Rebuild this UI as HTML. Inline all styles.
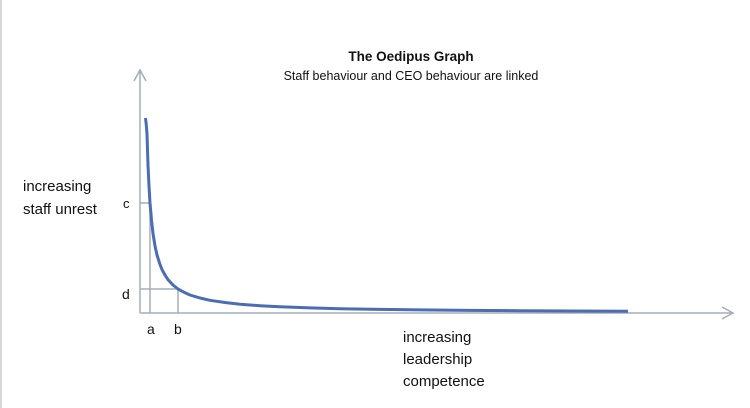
<!DOCTYPE html>
<html><head><meta charset="utf-8"><style>
body{margin:0;background:#fff;width:750px;height:408px;overflow:hidden}
svg{display:block}
text{font-family:"Liberation Sans",sans-serif;fill:#111}
</style></head><body>
<svg width="750" height="408" viewBox="0 0 750 408">
<line x1="1" y1="0" x2="1" y2="408" stroke="#c8c8c8" stroke-width="1.5"/>
<text x="411" y="61" font-size="13.5" font-weight="bold" text-anchor="middle">The Oedipus Graph</text>
<text x="411" y="80" font-size="12.5" text-anchor="middle">Staff behaviour and CEO behaviour are linked</text>
<g stroke="#a4adb8" stroke-width="1.5" fill="none">
<line x1="140" y1="70" x2="140" y2="313"/>
<polyline points="134,81 140,70 146,81"/>
<line x1="140" y1="313" x2="733" y2="313"/>
<polyline points="722,307 733,313 722,319"/>
<line x1="140" y1="203" x2="150" y2="203"/>
<line x1="150" y1="203" x2="150" y2="313"/>
<line x1="140" y1="289" x2="178" y2="289"/>
<line x1="178" y1="289" x2="178" y2="313"/>
</g>
<path d="M145.5,118 L146.3,125 L147,134 L147.5,150 L148,165 L149,186 L150,203 L151.5,220 L153,233.5 L155,246 L157,255 L159.5,263 L162,269.6 L165,275 L168,279.7 L173,285 L178,289 L184,292.3 L190,295 L200,298 L210,300.3 L225,302.5 L240,304.2 L260,305.7 L280,306.8 L310,307.9 L340,308.7 L380,309.4 L420,309.9 L470,310.4 L520,310.7 L570,311 L628,311.2" fill="none" stroke="#4a6db3" stroke-width="3" stroke-linejoin="round"/>
<text x="23" y="191" font-size="15">increasing</text>
<text x="23" y="214" font-size="15">staff unrest</text>
<text x="123" y="208" font-size="13">c</text>
<text x="122" y="299" font-size="14">d</text>
<text x="147" y="334" font-size="14">a</text>
<text x="174" y="334" font-size="14">b</text>
<text x="403" y="342" font-size="15">increasing</text>
<text x="403" y="364" font-size="15">leadership</text>
<text x="403" y="386" font-size="15">competence</text>
</svg>
</body></html>
